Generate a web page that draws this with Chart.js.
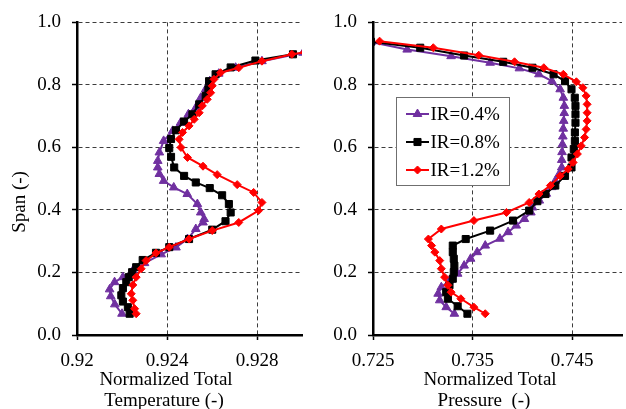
<!DOCTYPE html>
<html><head><meta charset="utf-8">
<script src="https://cdn.jsdelivr.net/npm/chart.js@4.4.1/dist/chart.umd.min.js"></script>
<style>
html,body{margin:0;padding:0;background:#fff;overflow:hidden;width:626px;height:409px;font-family:'Liberation Serif',serif;}
#wrap{position:relative;width:626px;height:409px;overflow:hidden;background:#fff;}
#c1{position:absolute;left:0;top:0;}
#c2{position:absolute;left:313px;top:0;}
</style></head><body>
<div id="wrap"><canvas id="c1" width="310" height="409"></canvas><canvas id="c2" width="315" height="409"></canvas></div>
<script>
// ---------- DATA ----------
const seriesLabels = ['IR=0.4%', 'IR=0.8%', 'IR=1.2%'];
const spanTicks = [0, 0.2, 0.4, 0.6, 0.8, 1.0];
const tempTicks = [0.92, 0.924, 0.928];
const tempTickLabels = ['0.92', '0.924', '0.928'];
const presTicks = [0.725, 0.735, 0.745];
const presTickLabels = ['0.725', '0.735', '0.745'];

// Normalized total temperature vs span
const tempSpan04 = [0.068,0.098,0.124,0.146,0.169,0.185,0.206,0.230,0.258,0.280,0.307,0.339,0.360,0.371,0.392,0.419,0.451,0.472,0.493,0.515,0.536,0.557,0.584,0.621,0.653,0.679,0.706,0.727,0.759,0.786,0.812,0.836,0.855,0.876,0.903];
const tempVal04  = [0.92200,0.92168,0.92150,0.92145,0.92167,0.92204,0.92248,0.92300,0.92374,0.92440,0.92491,0.92528,0.92560,0.92565,0.92550,0.92535,0.92490,0.92430,0.92385,0.92366,0.92359,0.92359,0.92366,0.92385,0.92425,0.92460,0.92495,0.92528,0.92550,0.92572,0.92590,0.92630,0.92705,0.92822,0.93005];
const tempSpan08 = [0.068,0.089,0.107,0.127,0.150,0.169,0.185,0.201,0.217,0.240,0.263,0.281,0.307,0.337,0.364,0.392,0.419,0.447,0.470,0.488,0.509,0.536,0.570,0.598,0.627,0.655,0.683,0.706,0.738,0.765,0.786,0.812,0.834,0.856,0.878,0.898];
const tempVal08  = [0.92234,0.92226,0.92204,0.92197,0.92204,0.92219,0.92230,0.92245,0.92263,0.92292,0.92351,0.92410,0.92498,0.92601,0.92660,0.92683,0.92675,0.92645,0.92590,0.92528,0.92476,0.92432,0.92418,0.92410,0.92418,0.92440,0.92476,0.92513,0.92543,0.92572,0.92584,0.92587,0.92616,0.92683,0.92793,0.92960];
const tempSpan12 = [0.068,0.084,0.111,0.132,0.160,0.185,0.212,0.238,0.262,0.281,0.307,0.334,0.360,0.398,0.424,0.456,0.481,0.513,0.540,0.568,0.600,0.626,0.648,0.669,0.690,0.711,0.733,0.754,0.775,0.797,0.818,0.839,0.855,0.876,0.898,0.904];
const tempVal12  = [0.92263,0.92256,0.92248,0.92241,0.92248,0.92263,0.92285,0.92307,0.92351,0.92410,0.92498,0.92601,0.92719,0.92807,0.92822,0.92785,0.92712,0.92623,0.92560,0.92491,0.92462,0.92454,0.92469,0.92498,0.92521,0.92543,0.92557,0.92579,0.92594,0.92601,0.92609,0.92638,0.92719,0.92822,0.92955,0.93010];

// Normalized total pressure vs span
const presSpan04 = [0.068,0.089,0.111,0.132,0.153,0.175,0.196,0.222,0.244,0.265,0.286,0.308,0.329,0.350,0.371,0.392,0.408,0.430,0.452,0.473,0.493,0.515,0.536,0.560,0.585,0.610,0.635,0.660,0.685,0.710,0.733,0.759,0.786,0.812,0.834,0.853,0.871,0.892,0.913,0.937];
const presVal04  = [0.73317,0.73235,0.73170,0.73154,0.73186,0.73270,0.73350,0.73415,0.73480,0.73546,0.73627,0.73774,0.73856,0.73938,0.74020,0.74085,0.74101,0.74170,0.74240,0.74295,0.74330,0.74370,0.74395,0.74395,0.74398,0.74402,0.74406,0.74410,0.74415,0.74420,0.74421,0.74411,0.74379,0.74297,0.74166,0.73970,0.73676,0.73284,0.72843,0.72480];
const presSpan08 = [0.068,0.092,0.116,0.137,0.159,0.180,0.201,0.222,0.244,0.265,0.286,0.307,0.334,0.366,0.398,0.428,0.451,0.478,0.509,0.536,0.568,0.595,0.621,0.648,0.679,0.706,0.733,0.759,0.786,0.812,0.834,0.855,0.874,0.894,0.919,0.938];
const presVal08  = [0.73448,0.73350,0.73252,0.73235,0.73268,0.73301,0.73311,0.73317,0.73311,0.73301,0.73301,0.73431,0.73676,0.73906,0.74068,0.74150,0.74232,0.74330,0.74428,0.74493,0.74493,0.74516,0.74527,0.74527,0.74533,0.74533,0.74533,0.74526,0.74493,0.74428,0.74313,0.74101,0.73807,0.73415,0.72974,0.72480];
const presSpan12 = [0.068,0.089,0.116,0.137,0.159,0.185,0.212,0.238,0.265,0.286,0.307,0.339,0.366,0.392,0.424,0.451,0.478,0.509,0.531,0.552,0.579,0.605,0.632,0.658,0.685,0.711,0.738,0.765,0.791,0.810,0.834,0.855,0.874,0.895,0.919,0.940];
const presVal12  = [0.73627,0.73513,0.73382,0.73284,0.73252,0.73219,0.73186,0.73170,0.73121,0.73088,0.73056,0.73186,0.73513,0.73840,0.74068,0.74166,0.74281,0.74379,0.74460,0.74509,0.74552,0.74591,0.74624,0.74640,0.74650,0.74650,0.74650,0.74640,0.74607,0.74542,0.74411,0.74215,0.73921,0.73562,0.73105,0.72566];

// ---------- STYLE ----------
const FAMILY = "'Liberation Serif', serif";
const FSIZE = 19;
Chart.defaults.font.family = FAMILY;
Chart.defaults.font.size = FSIZE;
Chart.defaults.color = '#000';

const styles = [
  {color:'#7030A0', point:'triangle', r:5, order:2},
  {color:'#000000', point:'rect', r:5, order:1},
  {color:'#FF0000', point:'rectRot', r:4, order:0}
];

const pts = (xs, ys) => xs.map((x, i) => ({x: x, y: ys[i]}));

function makeDatasets(pairs) {
  return pairs.map((p, i) => ({
    label: seriesLabels[i],
    data: pts(p[1], p[0]),
    showLine: true,
    borderColor: styles[i].color,
    backgroundColor: styles[i].color,
    borderWidth: 2,
    pointStyle: styles[i].point,
    pointRadius: styles[i].r,
    pointHoverRadius: styles[i].r,
    pointBorderWidth: 1,
    pointBackgroundColor: styles[i].color,
    pointBorderColor: styles[i].color,
    order: styles[i].order,
    tension: 0
  }));
}

function scaleX(min, max, ticks, labels, h) {
  return {
    type:'linear', min:min, max:max,
    afterBuildTicks: s => { s.ticks = ticks.map(v => ({value:v})); },
    afterFit: s => { s.height = h; },
    ticks:{ autoSkip:false, maxRotation:0, padding:10, callback:(v,i) => labels[i] },
    grid:{ color:'#3c3c3c', lineWidth:1, drawTicks:true, tickLength:5, tickColor:'#000', tickWidth:1.5, tickBorderDash:[] },
    border:{ display:true, color:'#000', width:2.5, dash:[4,3] }
  };
}
function scaleY(w) {
  return {
    type:'linear', min:0, max:1,
    afterBuildTicks: s => { s.ticks = spanTicks.map(v => ({value:v})); },
    afterFit: s => { s.width = w; },
    ticks:{ autoSkip:false, padding:11, callback:v => Number(v).toFixed(1) },
    grid:{ color:'#3c3c3c', lineWidth:1, drawTicks:true, tickLength:5, tickColor:'#000', tickWidth:1.5, tickBorderDash:[] },
    border:{ display:true, color:'#000', width:2.5, dash:[4,3] }
  };
}

function drawMarker(ctx, style, r, x, y, color) {
  ctx.beginPath();
  if (style === 'triangle') {
    ctx.moveTo(x, y - r); ctx.lineTo(x + r*0.866, y + r*0.5); ctx.lineTo(x - r*0.866, y + r*0.5);
  } else if (style === 'rect') {
    const s = r*Math.SQRT1_2; ctx.rect(x - s, y - s, 2*s, 2*s);
  } else {
    ctx.moveTo(x, y - r); ctx.lineTo(x + r, y); ctx.lineTo(x, y + r); ctx.lineTo(x - r, y);
  }
  ctx.closePath();
  ctx.fillStyle = color; ctx.fill();
  ctx.strokeStyle = color; ctx.lineWidth = 1; ctx.stroke();
}

function titlesPlugin(cfg) {
  return {
    id:'titles_' + cfg.name,
    afterDraw(chart) {
      const ctx = chart.ctx;
      ctx.save();
      ctx.fillStyle = '#000';
      ctx.font = FSIZE + 'px ' + FAMILY;
      ctx.textAlign = 'center'; ctx.textBaseline = 'middle';
      cfg.xTitle.forEach((t, i) => ctx.fillText(t, cfg.xTitleX + (cfg.xShift ? cfg.xShift[i] : 0), cfg.xTitleY + i*21));
      if (cfg.yTitle) {
        ctx.translate(cfg.yTitleX, cfg.yTitleY); ctx.rotate(-Math.PI/2);
        ctx.fillText(cfg.yTitle, 0, 0);
      }
      ctx.restore();
      if (cfg.legend) {
        const L = cfg.legend;
        ctx.save();
        ctx.fillStyle = '#fff'; ctx.fillRect(L.x, L.y, L.w, L.h);
        ctx.strokeStyle = '#6f6f6f'; ctx.lineWidth = 1; ctx.strokeRect(L.x + 0.5, L.y + 0.5, L.w, L.h);
        seriesLabels.forEach((lab, i) => {
          const y = L.y + L.first + i*L.gap;
          ctx.strokeStyle = styles[i].color; ctx.lineWidth = 2;
          ctx.beginPath(); ctx.moveTo(L.x + 10, y); ctx.lineTo(L.x + 33, y); ctx.stroke();
          drawMarker(ctx, styles[i].point, styles[i].r, L.x + 21.5, y, styles[i].color);
          ctx.fillStyle = '#000'; ctx.font = FSIZE + 'px ' + FAMILY;
          ctx.textAlign = 'left'; ctx.textBaseline = 'middle';
          ctx.fillText(lab, L.x + 34.5, y + 1);
        });
        ctx.restore();
      }
    }
  };
}

const common = {
  responsive:false, animation:false, devicePixelRatio:1,
  plugins:{ legend:{display:false}, tooltip:{enabled:false} },
  events:[]
};

function build() {
  new Chart(document.getElementById('c1'), {
    type:'scatter',
    data:{ datasets: makeDatasets([[tempSpan04,tempVal04],[tempSpan08,tempVal08],[tempSpan12,tempVal12]]) },
    options:Object.assign({}, common, {
      layout:{ padding:{ top:21, right:8, left:0, bottom:0 } },
      scales:{ x:scaleX(0.92, 0.93, tempTicks, tempTickLabels, 74), y:scaleY(77) }
    }),
    plugins:[titlesPlugin({name:'t', xTitle:['Normalized Total','Temperature (-)'], xTitleX:165, xShift:[1,-1], xTitleY:380, yTitle:'Span (-)', yTitleX:20, yTitleY:202})]
  });

  new Chart(document.getElementById('c2'), {
    type:'scatter',
    data:{ datasets: makeDatasets([[presSpan04,presVal04],[presSpan08,presVal08],[presSpan12,presVal12]]) },
    options:Object.assign({}, common, {
      layout:{ padding:{ top:21, right:0, left:0, bottom:0 } },
      scales:{ x:scaleX(0.725, 0.75, presTicks, presTickLabels, 74), y:scaleY(60) }
    }),
    plugins:[titlesPlugin({name:'p', xTitle:['Normalized Total','Pressure  (-)'], xTitleX:174, xShift:[3,-3], xTitleY:380,
      legend:{x:83, y:97, w:113, h:88, first:17, gap:28}})]
  });
}

if (document.fonts && document.fonts.load) {
  document.fonts.load("19px 'Liberation Serif'").then(build, build);
} else {
  build();
}
</script>
</body></html>
